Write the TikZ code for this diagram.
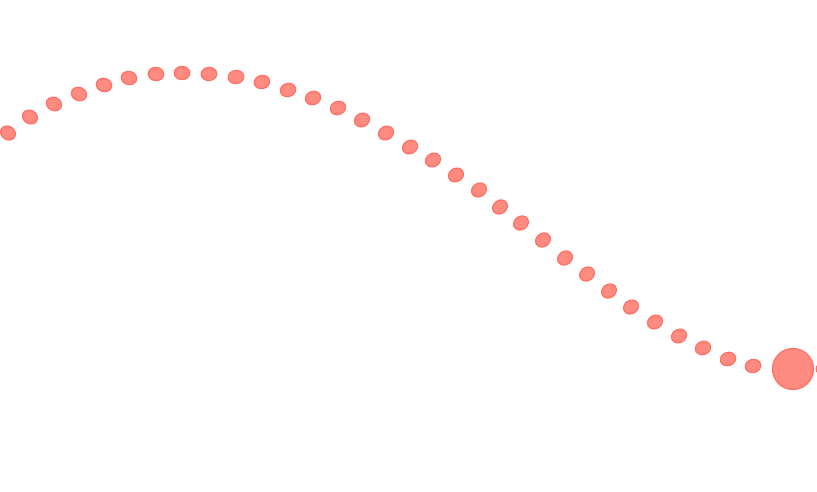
\documentclass[tikz,border=0pt]{standalone}
\definecolor{dotfill}{RGB}{255,138,128}
\definecolor{dotline}{RGB}{255,112,102}
\tikzset{
  dotmark/.style={fill=dotfill,draw=dotline,line width=1.2pt},
}
\begin{document}
\begin{tikzpicture}[x=1pt,y=-1pt]
\useasboundingbox (0,0) rectangle (817,492);
\clip (0,0) rectangle (817,492);
\foreach \px/\py/\ang in {
  8/133/-36, 30/117/-32, 54/104/-25, 79/94/-21, 104/85/-18, 129/78/-12,
  156/74/-5, 182/73/0, 209/74/4, 236/77/9, 262/82/14, 288/90/17,
  313/98/20, 338/108/24, 362/120/27, 386/133/29, 410/147/30, 433/160/31,
  456/175/33, 479/190/36, 500/207/38, 521/223/37, 543/240/38, 565/258/38,
  587/274/37, 609/291/37, 631/307/34, 655/322/31, 679/336/28, 703/348/25,
  728/359/20, 753/366/13}{
  \path[dotmark] (\px,\py) ellipse [x radius=7.8, y radius=6.6, rotate=\ang];
}
\node[circle,dotmark,minimum size=41,inner sep=0] (end) at (793,369) {};
\path[dotmark] (824,369) ellipse [x radius=7.8, y radius=6.6];
\end{tikzpicture}
\end{document}
